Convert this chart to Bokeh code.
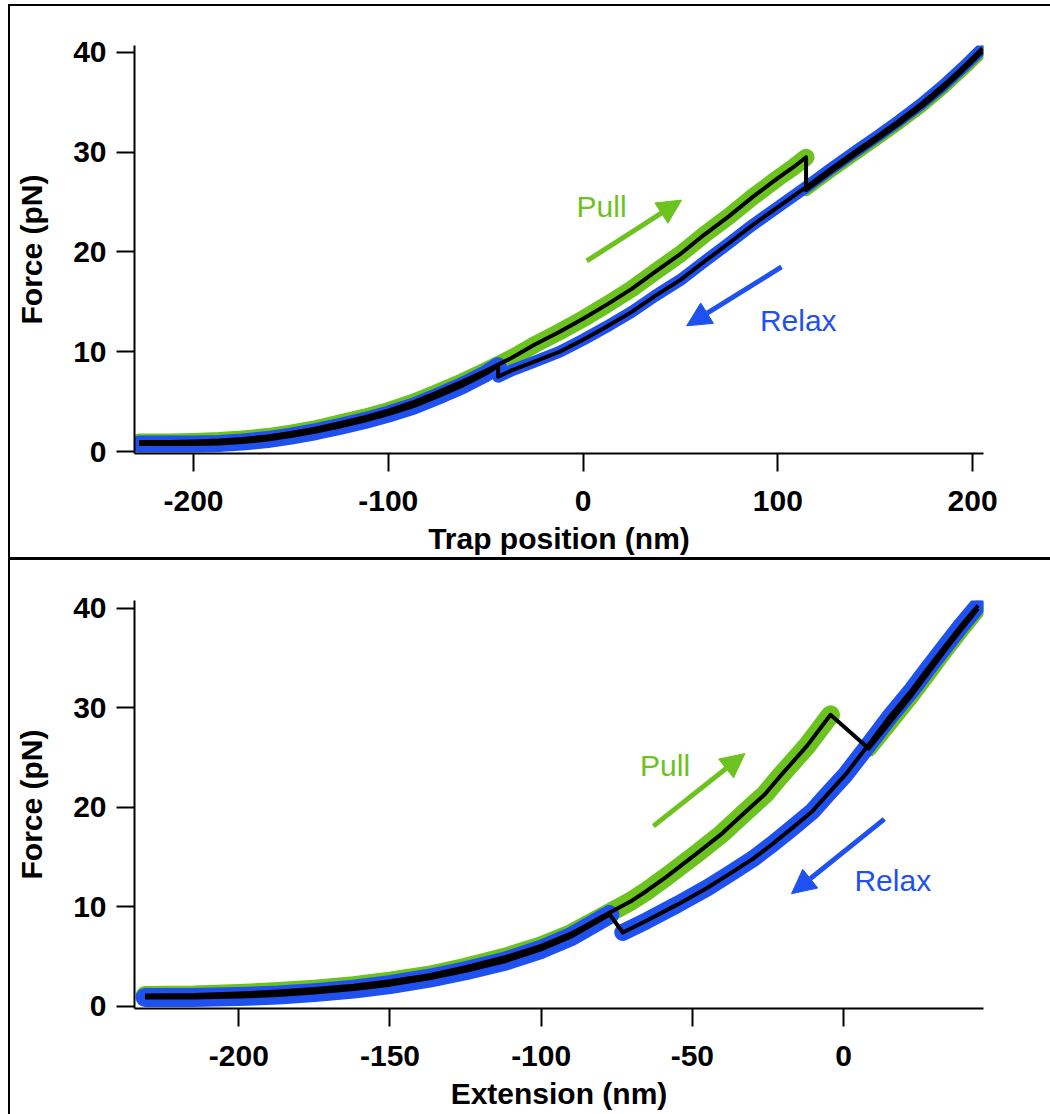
from bokeh.plotting import figure
from bokeh.models import Range1d, FixedTicker, Arrow, NormalHead, Label, Div
from bokeh.layouts import column, row
from bokeh.embed import file_html
from bokeh.resources import INLINE

# ---------------- data: top panel (force vs trap position) ----------------
top_pull_folded_x = [-228, -212, -200, -187, -175, -162, -150, -137, -125, -112, -100, -87, -75, -62,
                     -50, -37, -25, -12, 0, 12, 25, 37, 50, 62, 75, 87, 100, 108, 114.5]
top_pull_folded_F = [0.95, 0.95, 1.0, 1.1, 1.25, 1.5, 1.85, 2.3, 2.85, 3.45, 4.1, 4.95, 5.9, 7.0,
                     8.1, 9.35, 10.7, 12.0, 13.3, 14.7, 16.3, 18.0, 19.8, 21.7, 23.6, 25.5, 27.4, 28.5, 29.5]
top_pull_unfolded_x = [114.5, 127, 140, 151, 162.5, 174, 185, 195, 205]
top_pull_unfolded_F = [26.2, 28.0, 29.8, 31.3, 32.9, 34.6, 36.4, 38.2, 40.1]
top_relax_unfolded_x = [205, 195, 185, 174, 162.5, 151, 140, 127, 114.5, 100, 87, 75, 62, 50, 37, 25,
                        12, 0, -12, -25, -37, -43.6]
top_relax_unfolded_F = [40.4, 38.5, 36.7, 34.9, 33.2, 31.6, 30.1, 28.3, 26.5, 24.5, 22.7, 20.9, 19.0,
                        17.2, 15.6, 14.0, 12.5, 11.2, 10.0, 9.0, 8.1, 7.5]
top_relax_folded_x = [-43.6, -50, -62, -75, -87, -100, -112, -125, -137, -150, -162, -175, -187,
                      -200, -212, -228]
top_relax_folded_F = [8.6, 7.8, 6.6, 5.5, 4.55, 3.75, 3.1, 2.5, 2.0, 1.55, 1.2, 0.95, 0.8, 0.75,
                      0.75, 0.75]
top_xticks = [-200, -100, 0, 100, 200]

# ---------------- data: bottom panel (force vs extension) ----------------
bot_pull_folded_x = [-231, -215, -200, -187, -175, -162, -150, -137, -125, -112, -100, -90, -77.3,
                     -70, -65, -58.6, -48.7, -40, -32.2, -26, -21.3, -12, -4.3]
bot_pull_folded_F = [1.05, 1.1, 1.25, 1.45, 1.7, 2.05, 2.5, 3.1, 3.9, 4.9, 6.05, 7.3, 9.4,
                     10.6, 11.6, 13.0, 15.3, 17.4, 19.6, 21.3, 23.0, 26.2, 29.3]
bot_pull_unfolded_x = [8.3, 15, 22.6, 28, 33.6, 39, 44.5]
bot_pull_unfolded_F = [25.9, 28.4, 31.3, 33.5, 35.8, 37.9, 40.0]
bot_relax_unfolded_x = [44.5, 39, 33.6, 28, 22.6, 15, 8.3, 0.7, -5, -10.3, -17, -23.5, -30, -37.7,
                        -45, -55, -65, -73]
bot_relax_unfolded_F = [40.3, 38.3, 36.2, 34.0, 31.8, 29.0, 26.3, 23.3, 21.4, 19.6, 17.9, 16.3, 14.8,
                        13.3, 11.9, 10.2, 8.6, 7.4]
bot_relax_folded_x = [-77.3, -90, -100, -112, -125, -137, -150, -162, -175, -187, -200, -215, -231]
bot_relax_folded_F = [9.2, 7.0, 5.7, 4.5, 3.55, 2.8, 2.15, 1.7, 1.35, 1.1, 0.95, 0.85, 0.85]
bot_xticks = [-200, -150, -100, -50, 0]

yticks = [0, 10, 20, 30, 40]

GREEN = "#6cc21e"
BLUE = "#1f50f0"
FONT = "Liberation Sans"


def style_axes(p, xticks, xlabel):
    for ax in (p.xaxis[0], p.yaxis[0]):
        ax.axis_line_width = 2
        ax.axis_line_color = "black"
        ax.major_tick_line_width = 2
        ax.major_tick_line_color = "black"
        ax.major_tick_out = 18
        ax.major_tick_in = 0
        ax.minor_tick_out = 0
        ax.minor_tick_in = 0
        ax.major_label_text_font = FONT
        ax.major_label_text_font_style = "bold"
        ax.major_label_text_font_size = "30px"
        ax.major_label_text_color = "black"
        ax.axis_label_text_font = FONT
        ax.axis_label_text_font_style = "bold"
        ax.axis_label_text_font_size = "30px"
        ax.axis_label_text_color = "black"
    p.xaxis[0].ticker = FixedTicker(ticks=xticks)
    p.xaxis[0].major_label_overrides = {t: str(t) for t in xticks}
    p.yaxis[0].ticker = FixedTicker(ticks=yticks)
    p.yaxis[0].major_label_overrides = {t: str(t) for t in yticks}
    p.xaxis[0].axis_label = xlabel
    p.yaxis[0].axis_label = "Force (pN)"
    p.xaxis[0].major_label_standoff = 19
    p.yaxis[0].major_label_standoff = 10
    p.xaxis[0].axis_label_standoff = 8
    p.yaxis[0].axis_label_standoff = 22
    p.grid.visible = False
    p.outline_line_color = None


def make_panel(h, xr, yr, borders, xticks, xlabel, pf, pu, ru, rf, widths, notes):
    p = figure(width=1040, height=h, x_range=Range1d(*xr), y_range=Range1d(*yr),
               output_backend="svg", toolbar_location=None,
               min_border_left=borders[0], min_border_right=borders[1],
               min_border_top=borders[2], min_border_bottom=borders[3])
    style_axes(p, xticks, xlabel)
    w_folded, w_unfolded = widths
    # noisy traces drawn as bands
    p.line(pf[0], pf[1], line_color=GREEN, line_width=w_folded, line_join="round", line_cap="round")
    p.line(pu[0], pu[1], line_color=GREEN, line_width=w_unfolded, line_join="round", line_cap="round")
    p.line(ru[0], ru[1], line_color=BLUE, line_width=w_unfolded, line_join="round", line_cap="round")
    p.line(rf[0], rf[1], line_color=BLUE, line_width=w_folded, line_join="round", line_cap="round")
    # smoothed traces
    p.line(pf[0] + pu[0], pf[1] + pu[1], line_color="black", line_width=4, line_join="round")
    p.line(ru[0] + rf[0], ru[1] + rf[1], line_color="black", line_width=4, line_join="round")
    # annotations
    (pull_txt, pull_arrow, relax_txt, relax_arrow) = notes
    p.add_layout(Label(x=pull_txt[0], y=pull_txt[1], text="Pull", text_color=GREEN,
                       text_font=FONT, text_font_size="30px", text_align="center",
                       text_baseline="middle"))
    p.add_layout(Label(x=relax_txt[0], y=relax_txt[1], text="Relax", text_color=BLUE,
                       text_font=FONT, text_font_size="30px", text_align="center",
                       text_baseline="middle"))
    p.add_layout(Arrow(end=NormalHead(size=24, fill_color=GREEN, line_color=GREEN),
                       x_start=pull_arrow[0], y_start=pull_arrow[1],
                       x_end=pull_arrow[2], y_end=pull_arrow[3],
                       line_color=GREEN, line_width=5))
    p.add_layout(Arrow(end=NormalHead(size=24, fill_color=BLUE, line_color=BLUE),
                       x_start=relax_arrow[0], y_start=relax_arrow[1],
                       x_end=relax_arrow[2], y_end=relax_arrow[3],
                       line_color=BLUE, line_width=5))
    return p


p1 = make_panel(551, (-230.3, 205.6), (-0.2, 40.7), (124, 67, 39, 104), top_xticks,
                "Trap position (nm)",
                (top_pull_folded_x, top_pull_folded_F), (top_pull_unfolded_x, top_pull_unfolded_F),
                (top_relax_unfolded_x, top_relax_unfolded_F), (top_relax_folded_x, top_relax_folded_F),
                (17, 12),
                ((9.5, 24.6), (1.9, 19.1, 50.6, 25.2), (110.5, 13.1), (101.9, 18.5, 53.2, 12.6)))

p2 = make_panel(554, (-234.5, 46.3), (-0.25, 40.8), (124, 61, 40, 106), bot_xticks,
                "Extension (nm)",
                (bot_pull_folded_x, bot_pull_folded_F), (bot_pull_unfolded_x, bot_pull_unfolded_F),
                (bot_relax_unfolded_x, bot_relax_unfolded_F), (bot_relax_folded_x, bot_relax_folded_F),
                (19, 17),
                ((-59.0, 24.2), (-62.9, 18.1, -32.6, 25.4), (16.3, 12.6), (13.5, 18.8, -17.2, 11.3)))

left_bar = Div(width=2, height=1110, margin=0, styles={"background-color": "black"})
top_bar = Div(width=1040, height=2, margin=0, styles={"background-color": "black"})
sep_bar = Div(width=1040, height=3, margin=0, styles={"background-color": "black"})
col = column(top_bar, p1, sep_bar, p2, spacing=0, margin=0)
layout = row(left_bar, col, spacing=0, margin=(4, 0, 0, 8))

open("out.html", "w").write(file_html(layout, INLINE))
